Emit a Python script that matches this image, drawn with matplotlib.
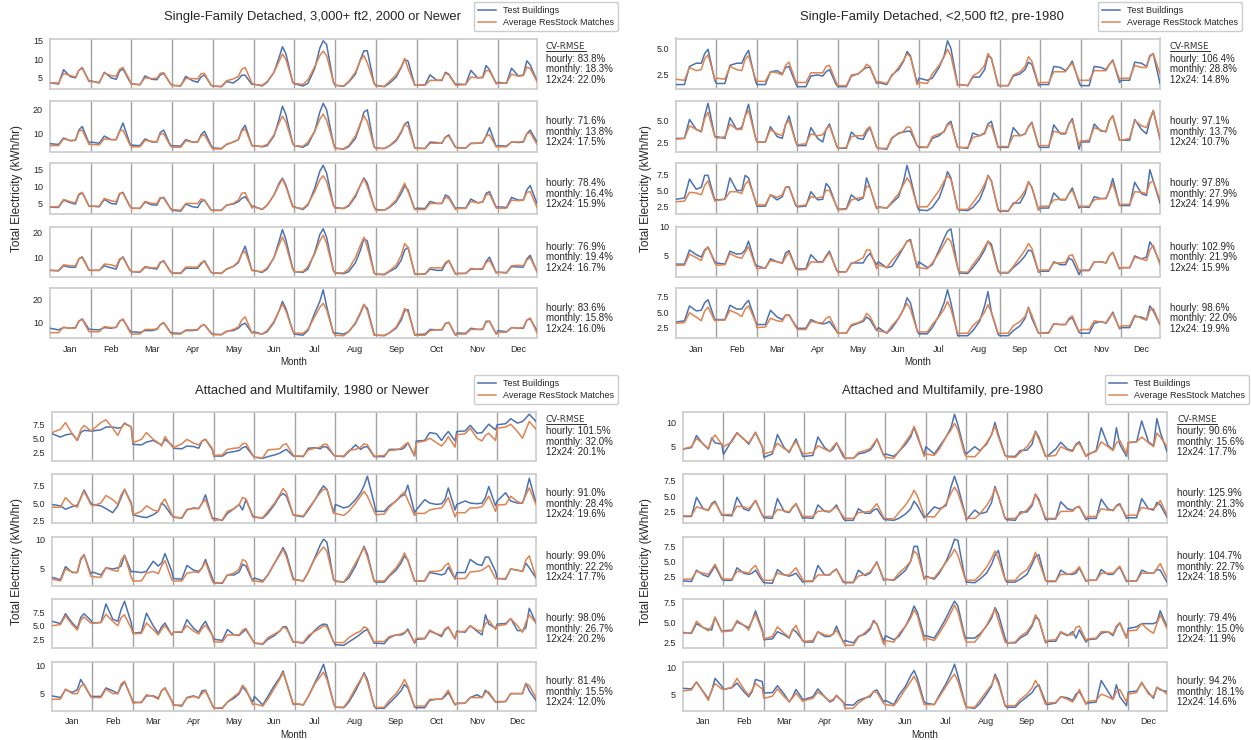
import numpy as np
import matplotlib
matplotlib.use("Agg")
import matplotlib.pyplot as plt
from matplotlib.lines import Line2D

plt.rcParams['font.family'] = ['Liberation Sans', 'DejaVu Sans']

# ---------------- data ----------------
MONTHS = ['Jan', 'Feb', 'Mar', 'Apr', 'May', 'Jun', 'Jul', 'Aug', 'Sep', 'Oct', 'Nov', 'Dec']
HOURS = [0, 5, 8, 12, 15, 17, 19, 23]   # hours of day read from each monthly 24-h profile
SERIES_LABELS = ['Test Buildings', 'Average ResStock Matches']
TITLES = ['Single-Family Detached, 3,000+ ft2, 2000 or Newer',
          'Single-Family Detached, <2,500 ft2, pre-1980',
          'Attached and Multifamily, 1980 or Newer',
          'Attached and Multifamily, pre-1980']

# ---- Single-Family Detached, 3,000+ ft2, 2000 or Newer ----
SF_NEW_TEST_1 = [[3.7,3.3,7.2,5.3,5.0,7.0,7.8,4.0],[4.2,3.6,6.5,5.0,4.6,6.8,7.4,4.0],[3.4,3.1,5.5,4.6,4.5,5.8,6.2,3.4],
                 [3.0,2.8,5.4,4.2,3.8,5.2,5.8,3.0],[2.8,2.6,4.0,3.6,4.6,5.7,5.7,3.2],[3.3,2.8,3.8,6.5,10.5,13.4,11.5,3.8],
                 [3.4,2.8,3.5,7.5,13.0,15.0,14.0,3.8],[3.0,2.7,3.8,6.0,10.0,12.3,12.3,3.5],[3.0,2.6,3.5,5.2,7.8,10.0,9.5,3.0],
                 [3.0,3.1,5.8,4.3,4.3,6.5,6.0,3.2],[3.3,3.2,7.0,5.0,5.2,8.3,7.2,3.4],[3.8,3.5,7.6,5.5,5.8,9.6,8.5,4.2]]
SF_NEW_MATCH_1 = [[3.7,3.6,6.2,5.6,5.2,7.0,7.6,4.2],[4.0,3.8,6.3,5.6,5.4,7.3,7.8,4.3],[3.3,3.2,5.0,4.8,4.9,6.2,6.4,3.4],
                  [2.9,2.9,4.8,4.8,4.7,6.1,6.2,3.0],[2.7,2.7,4.2,4.7,5.4,7.3,7.8,3.6],[3.2,3.0,4.0,6.5,9.5,11.4,10.0,4.0],
                  [3.5,3.2,4.5,8.0,11.0,12.2,11.0,4.0],[3.0,2.8,4.0,6.5,9.8,11.0,9.0,3.5],[2.8,2.7,4.0,5.8,8.0,10.2,7.5,3.0],
                  [3.0,3.0,4.3,4.3,4.5,6.2,5.8,3.0],[3.0,3.2,5.2,5.0,5.0,7.0,6.8,3.4],[3.5,3.6,6.0,5.4,5.6,7.9,7.5,4.0]]
SF_NEW_TEST_2 = [[5.8,5.5,8.2,7.0,7.2,11.5,13.0,6.0],[6.5,6.0,9.0,7.5,7.5,11.0,14.5,6.0],[5.2,5.0,7.8,6.5,6.5,10.5,11.5,5.0],
                 [5.0,4.8,7.5,6.5,6.5,9.5,11.0,5.0],[4.0,3.8,5.5,6.5,7.5,11.5,13.5,5.0],[5.0,4.5,5.0,9.0,16.0,21.5,18.0,6.0],
                 [5.0,4.3,5.5,11.0,19.0,22.7,20.0,6.0],[4.0,3.5,4.5,8.0,14.0,19.0,20.0,4.5],[4.0,3.8,4.8,7.0,10.5,14.0,15.0,4.0],
                 [4.0,3.8,6.5,6.3,6.0,8.5,9.5,4.3],[4.2,4.0,6.0,6.0,6.2,9.0,12.5,4.5],[5.0,4.8,6.5,6.3,6.5,10.0,11.5,6.5]]
SF_NEW_MATCH_2 = [[5.0,5.0,7.8,7.2,7.3,11.0,11.5,5.5],[5.5,5.3,7.8,7.5,7.5,11.0,11.5,5.5],[4.5,4.5,7.2,6.8,6.6,9.8,10.0,4.8],
                  [4.3,4.3,7.0,6.5,6.5,9.0,9.5,4.5],[3.6,3.6,5.5,6.5,7.5,11.0,12.0,5.0],[4.8,4.7,5.5,9.5,14.5,17.3,15.0,6.0],
                  [5.0,4.7,6.5,11.0,16.0,18.2,15.5,6.0],[3.8,3.7,5.0,9.0,14.5,17.5,15.0,4.5],[3.8,3.8,5.0,7.5,11.0,14.0,13.0,4.0],
                  [3.8,3.8,6.0,6.0,6.2,8.5,9.0,4.2],[4.0,4.0,5.8,6.0,6.5,9.0,9.5,4.5],[4.5,4.5,6.5,6.5,6.8,10.0,10.5,5.5]]
SF_NEW_TEST_3 = [[3.9,3.8,6.0,5.2,4.8,7.5,8.2,4.2],[4.2,4.0,6.2,5.0,4.8,7.8,8.3,4.2],[3.6,3.5,5.4,4.6,4.5,6.5,6.8,3.5],
                 [3.0,2.7,4.8,4.0,3.8,5.5,6.0,3.0],[3.0,3.0,4.5,4.8,5.5,6.5,7.0,4.2],[4.2,3.2,4.5,7.5,11.0,12.5,10.5,4.2],
                 [4.0,3.2,4.5,9.5,14.5,16.3,14.0,4.5],[3.8,3.5,4.2,7.0,10.5,12.6,11.0,4.0],[3.2,3.0,3.8,5.5,8.0,10.2,9.0,3.2],
                 [3.6,3.5,5.6,5.0,5.0,7.5,7.0,3.5],[3.7,3.6,6.3,5.2,5.4,8.0,8.5,3.8],[4.0,3.8,6.8,6.0,6.0,9.0,10.3,5.0]]
SF_NEW_MATCH_3 = [[4.0,4.0,6.2,5.5,5.2,7.8,8.3,4.2],[4.2,4.2,6.5,5.8,5.5,8.0,8.0,4.3],[3.5,3.6,5.6,5.0,5.0,6.8,6.5,3.5],
                  [3.2,3.0,5.0,5.0,5.0,6.3,6.0,3.0],[2.9,2.9,4.5,5.0,6.0,8.0,8.2,3.6],[4.0,3.3,4.5,7.5,10.5,12.2,10.0,4.0],
                  [3.8,3.5,4.8,8.5,12.0,13.2,11.5,4.5],[3.6,3.5,4.5,7.5,10.5,12.3,10.0,4.0],[3.0,3.0,4.0,6.0,9.0,11.0,8.5,3.2],
                  [3.2,3.2,5.0,5.0,5.0,6.8,6.5,3.2],[3.5,3.5,5.6,5.2,5.4,7.5,7.8,3.6],[3.6,3.6,6.0,5.8,6.0,8.3,8.5,3.8]]
SF_NEW_TEST_4 = [[5.0,4.8,6.8,6.2,6.2,9.5,10.3,5.2],[5.0,5.0,6.8,6.0,5.5,9.0,10.3,5.2],[4.5,4.3,6.2,5.8,5.5,8.0,8.8,4.5],
                 [4.0,3.8,5.8,5.8,5.8,7.5,8.8,4.2],[4.0,3.8,5.5,6.5,8.0,11.5,14.5,5.0],[5.0,4.2,5.5,10.0,16.5,21.0,17.0,5.8],
                 [4.5,4.2,5.5,12.0,19.0,21.3,18.0,5.0],[4.0,3.7,4.5,8.0,13.0,17.5,16.5,4.0],[3.5,3.3,4.5,6.0,9.0,13.0,14.0,3.5],
                 [3.5,3.5,5.5,5.0,5.0,7.5,8.8,3.5],[3.8,3.8,5.5,5.5,5.5,8.5,10.2,4.0],[4.3,4.0,6.5,6.3,6.3,9.5,10.9,4.5]]
SF_NEW_MATCH_4 = [[5.0,5.0,7.2,6.8,6.8,9.5,10.0,5.0],[5.0,5.0,7.5,7.2,6.5,9.5,10.0,5.2],[4.5,4.5,6.5,6.0,6.0,8.3,8.5,4.5],
                  [4.0,4.0,6.3,6.3,6.3,8.0,8.5,4.2],[4.0,3.9,5.5,6.5,8.5,11.5,12.5,5.0],[4.8,4.5,6.0,10.0,15.0,18.0,15.0,5.5],
                  [4.5,4.5,6.5,11.5,16.5,18.8,15.5,5.0],[4.0,4.0,5.5,10.0,15.0,18.0,14.0,4.0],[3.5,3.5,4.8,7.0,11.0,15.5,14.0,3.6],
                  [3.5,3.6,6.0,6.0,6.0,8.0,9.0,3.6],[3.8,3.8,5.8,5.5,5.8,8.0,9.0,4.0],[4.2,4.2,6.8,7.0,6.8,9.0,10.0,4.5]]
SF_NEW_TEST_5 = [[7.5,6.8,7.8,7.5,7.8,10.5,11.5,7.0],[7.0,6.8,7.8,7.5,8.0,10.5,11.3,6.5],[6.0,5.7,6.5,6.5,7.0,9.0,9.8,5.8],
                 [5.5,5.3,6.5,6.5,6.8,8.5,9.0,5.5],[5.0,4.8,6.2,6.5,7.5,9.0,9.7,5.5],[6.0,5.0,6.0,10.0,15.0,19.0,16.0,6.5],
                 [5.0,4.5,6.5,14.0,19.0,24.0,17.0,5.5],[5.5,5.0,6.0,9.5,14.0,17.5,16.0,5.0],[4.5,4.3,5.5,7.5,11.0,15.0,15.5,4.5],
                 [4.8,5.0,7.0,6.8,6.8,9.5,10.0,4.5],[5.5,5.3,7.5,7.0,7.0,10.5,10.5,5.0],[6.5,6.0,7.8,7.5,7.5,11.0,11.5,6.5]]
SF_NEW_MATCH_5 = [[5.6,5.6,8.0,7.5,7.5,10.5,11.3,6.0],[6.0,6.0,8.2,7.8,7.8,10.5,11.5,6.0],[5.0,5.0,7.0,7.0,7.2,9.0,10.0,5.5],
                  [5.0,5.0,6.8,6.8,7.0,8.5,9.0,5.2],[4.7,4.7,6.0,7.0,8.0,11.0,12.4,5.5],[5.5,5.0,6.5,10.5,15.0,17.8,15.0,6.5],
                  [5.5,5.3,7.0,12.5,16.5,18.2,15.5,5.5],[4.5,4.3,6.0,10.0,14.5,17.8,15.0,4.5],[4.5,4.5,5.5,8.0,12.0,16.0,14.5,4.5],
                  [4.5,4.5,6.5,6.8,7.0,9.5,10.0,4.5],[5.0,5.0,7.0,7.0,7.2,10.0,10.5,5.0],[5.8,5.8,7.8,7.5,7.8,11.0,11.9,5.5]]

# ---- Single-Family Detached, <2,500 ft2, pre-1980 ----
SF_OLD_TEST_1 = [[1.6,1.6,3.3,3.6,3.6,4.5,4.9,2.0],[1.7,1.7,3.4,3.6,3.6,4.3,4.8,2.0],[1.6,1.6,2.8,2.9,2.6,3.2,3.3,1.7],
                 [1.4,1.4,2.4,2.5,2.4,2.8,3.0,1.6],[1.4,1.4,2.4,2.6,3.0,3.2,3.2,1.7],[1.8,1.6,2.5,3.0,3.8,4.7,4.3,1.7],
                 [2.2,2.0,2.2,3.2,4.3,5.7,5.0,1.6],[1.6,1.5,2.3,2.3,3.0,4.3,4.1,1.5],[1.5,1.5,2.4,2.6,3.0,3.7,3.5,1.5],
                 [1.6,1.6,3.3,3.2,2.9,3.3,3.8,1.8],[1.5,1.5,3.3,3.2,3.0,3.5,3.9,1.8],[2.0,2.0,3.7,3.6,3.3,4.3,4.5,1.7]]
SF_OLD_MATCH_1 = [[2.1,2.0,3.2,2.9,3.0,4.0,4.4,2.1],[2.2,2.1,3.3,3.0,2.9,4.0,4.3,2.2],[1.9,1.9,2.8,2.7,2.5,3.4,3.7,1.9],
                  [1.8,1.8,2.7,2.7,2.7,3.3,3.4,1.8],[1.5,1.5,2.5,2.6,3.0,3.5,3.3,1.8],[1.9,1.7,2.4,3.2,3.9,4.5,4.2,1.6],
                  [1.8,1.7,2.6,3.4,4.2,4.9,4.3,1.5],[1.6,1.5,2.4,2.8,3.4,4.5,4.0,1.6],[1.5,1.5,2.5,2.8,3.3,4.2,3.8,1.6],
                  [1.8,1.8,2.8,2.8,2.8,3.3,3.6,2.0],[2.0,2.0,2.9,2.9,2.9,3.5,3.8,2.1],[2.2,2.2,3.4,3.2,3.2,4.2,4.5,2.6]]
SF_OLD_TEST_2 = [[3.0,3.0,5.1,4.0,3.8,5.5,6.9,3.2],[3.2,3.0,5.3,4.0,4.2,5.5,6.8,3.2],[2.6,2.6,4.3,3.2,3.0,4.5,5.5,2.6],
                 [2.2,2.2,4.2,3.0,2.6,4.0,4.6,2.3],[1.9,1.9,3.7,3.0,2.9,3.7,4.2,2.0],[1.9,1.8,3.0,3.6,3.7,3.8,3.8,2.2],
                 [2.0,2.0,3.0,3.3,3.8,4.6,4.9,2.0],[2.0,1.9,3.6,3.3,3.6,4.6,4.9,2.0],[2.0,2.0,4.2,3.3,3.5,4.3,4.8,2.1],
                 [2.0,2.0,4.5,3.5,3.5,4.6,5.2,1.8],[2.6,2.6,4.6,3.8,3.8,5.0,5.5,2.8],[2.8,2.8,5.1,4.0,3.5,5.0,6.1,2.9]]
SF_OLD_MATCH_2 = [[2.9,3.0,4.4,4.0,3.7,5.2,5.9,3.2],[3.0,3.2,4.6,4.0,4.0,5.5,6.1,3.2],[2.6,2.6,4.0,3.5,3.3,4.6,5.0,2.6],
                  [2.3,2.4,3.5,3.3,3.4,4.0,4.4,2.3],[1.9,2.0,3.2,3.3,3.3,4.0,4.3,2.0],[1.9,1.9,3.1,3.5,3.8,4.3,4.2,2.2],
                  [2.1,2.0,3.2,3.5,3.7,4.5,4.6,2.0],[2.0,2.0,3.1,3.3,3.5,4.4,4.4,2.0],[2.1,2.1,3.3,3.3,3.5,4.3,4.7,2.2],
                  [2.2,2.2,3.8,3.6,3.6,4.6,5.0,2.2],[2.7,2.8,4.2,3.9,3.7,5.0,5.5,2.8],[2.8,3.0,5.0,4.4,4.2,5.2,6.1,3.0]]
SF_OLD_TEST_3 = [[3.6,3.8,6.8,5.2,5.5,7.4,7.4,3.5],[3.5,3.6,7.0,5.0,5.0,7.4,7.0,3.4],[2.5,2.5,4.3,3.5,4.0,5.5,5.6,2.6],
                 [2.4,2.5,4.8,3.5,3.6,6.1,5.5,2.6],[2.0,2.1,4.3,3.4,3.8,7.0,5.5,2.1],[2.4,2.2,3.0,4.0,6.5,9.0,7.0,2.5],
                 [1.9,1.8,2.3,3.8,6.0,8.0,7.0,2.0],[1.9,1.8,2.3,3.5,5.5,7.4,6.5,1.9],[1.7,1.7,3.0,3.0,4.5,6.4,5.5,1.9],
                 [2.2,2.2,4.6,3.5,3.5,4.5,5.4,2.2],[2.4,2.3,4.0,3.7,3.7,5.0,6.9,2.6],[2.6,2.6,6.3,4.5,4.2,8.3,6.5,3.0]]
SF_OLD_MATCH_3 = [[3.2,3.3,4.7,4.6,4.3,5.8,6.5,3.3],[3.4,3.6,4.8,4.8,4.5,6.0,6.5,3.5],[2.7,2.7,4.3,3.9,4.3,5.5,5.5,2.8],
                  [2.5,2.7,4.0,3.8,4.0,5.0,5.0,2.6],[1.9,2.0,3.5,3.8,3.9,5.7,5.5,2.1],[2.3,2.2,3.2,4.5,6.0,7.0,6.2,2.6],
                  [2.4,2.4,3.5,5.0,6.5,7.3,6.8,2.0],[2.0,2.0,3.0,4.5,6.0,7.3,6.5,2.0],[1.8,1.8,2.8,3.8,5.0,6.3,5.5,1.9],
                  [2.5,2.5,3.5,3.6,3.6,4.5,5.0,2.5],[2.5,2.5,3.5,3.7,3.8,5.0,6.1,2.6],[2.8,2.8,4.8,4.7,4.5,6.2,6.5,3.5]]
SF_OLD_TEST_4 = [[3.6,3.6,6.0,5.2,4.8,6.0,6.5,4.0],[3.8,3.6,5.8,5.3,5.4,6.0,7.5,3.6],[3.3,2.9,4.5,4.0,3.8,5.5,5.9,3.0],
                 [2.8,2.8,5.2,4.0,4.0,5.0,5.8,2.7],[2.3,2.3,3.8,3.8,3.8,4.8,5.4,3.5],[4.0,3.0,3.2,5.0,6.5,7.5,7.8,3.0],
                 [4.0,3.0,3.5,6.0,8.0,9.2,9.6,3.0],[2.1,2.0,3.0,4.5,6.0,7.5,7.0,2.5],[2.1,2.1,3.0,4.0,5.0,6.0,5.8,2.2],
                 [2.4,2.4,4.0,3.5,3.5,4.6,4.3,1.8],[2.5,2.5,4.0,4.0,3.8,5.0,5.6,2.8],[3.0,3.0,5.0,4.5,4.8,7.4,6.5,3.8]]
SF_OLD_MATCH_4 = [[3.4,3.4,5.3,4.7,4.2,5.8,6.5,3.8],[3.4,3.5,5.4,4.8,4.6,5.6,6.6,3.4],[2.8,3.0,4.2,4.0,3.7,4.8,5.6,2.8],
                  [2.6,2.7,4.0,3.9,3.9,4.8,5.5,2.8],[2.2,2.3,3.7,4.2,4.7,6.0,6.0,2.8],[3.5,3.0,4.2,5.5,6.5,7.5,7.5,3.2],
                  [3.0,2.8,3.8,5.5,7.0,8.0,7.5,3.0],[2.3,2.2,3.5,5.0,6.5,7.5,6.5,2.3],[2.2,2.2,3.2,4.8,6.0,7.1,6.3,2.3],
                  [2.6,2.6,3.8,3.8,3.9,5.0,5.2,2.5],[2.6,2.6,4.0,4.0,3.8,5.0,5.6,2.8],[3.0,3.0,4.8,4.5,4.2,6.0,6.8,3.5]]
SF_OLD_TEST_5 = [[3.4,3.6,6.0,5.2,5.3,6.5,7.0,3.8],[3.8,3.8,6.1,5.5,5.5,6.3,6.9,3.7],[3.0,3.0,5.3,4.2,3.8,4.5,4.5,2.8],
                 [2.4,2.4,3.8,3.3,3.1,3.2,3.5,2.0],[1.6,1.6,2.8,3.2,3.5,4.2,3.8,2.0],[2.5,1.6,2.4,4.0,5.5,7.3,6.5,2.0],
                 [1.5,1.5,2.5,4.5,6.5,8.6,6.5,1.2],[1.2,1.2,2.0,3.5,6.0,8.3,5.0,1.4],[1.2,1.2,2.0,2.8,4.0,5.8,4.0,1.6],
                 [1.6,1.7,3.1,3.0,3.0,3.8,4.1,1.7],[1.6,1.6,3.2,3.5,3.2,4.0,5.0,2.3],[2.5,2.5,4.3,4.2,3.8,6.0,5.2,3.0]]
SF_OLD_MATCH_5 = [[3.2,3.3,4.9,4.2,3.6,5.2,5.8,3.6],[3.7,3.7,5.3,4.8,4.3,5.5,6.0,3.6],[2.5,2.6,4.0,3.6,3.5,4.5,4.6,2.6],
                  [2.2,2.2,3.5,3.3,3.3,4.0,4.3,2.2],[1.6,1.6,3.0,3.3,3.7,4.8,4.3,2.2],[2.0,1.7,2.8,4.0,5.5,6.4,5.5,2.0],
                  [1.8,1.8,3.0,4.3,5.5,6.7,5.5,1.6],[1.6,1.6,2.8,3.8,5.0,6.2,5.0,1.6],[1.6,1.6,2.8,3.5,4.3,5.7,4.5,1.6],
                  [1.6,1.6,3.1,3.0,3.0,4.0,4.4,1.8],[2.2,2.2,3.6,3.4,3.3,4.2,4.8,2.4],[2.8,2.8,4.5,4.0,3.7,5.3,5.6,3.0]]

# ---- Attached and Multifamily, 1980 or Newer ----
MF_NEW_TEST_1 = [[5.8,5.2,5.6,5.8,4.6,6.0,6.4,6.3],[6.3,6.5,7.0,7.0,6.8,6.9,7.7,7.0],[3.9,3.8,4.3,4.6,4.1,3.8,4.8,3.8],
                 [3.2,3.1,3.6,3.5,3.2,4.5,4.8,3.0],[1.8,1.8,2.4,2.6,2.8,3.3,3.5,1.9],[1.6,1.4,1.7,2.0,2.3,2.7,3.0,1.8],
                 [1.8,1.7,3.2,3.3,3.1,3.5,3.4,2.0],[1.8,1.7,2.6,3.8,3.0,3.4,3.5,1.7],[1.7,1.7,3.0,3.0,3.0,3.3,4.2,1.8],
                 [4.5,4.6,6.0,5.8,4.6,5.5,6.2,4.5],[6.2,6.3,7.3,5.9,6.0,6.8,7.5,6.5],[7.4,7.6,8.5,7.7,8.0,8.6,9.3,8.0]]
MF_NEW_MATCH_1 = [[6.0,6.6,7.8,5.8,4.6,6.5,7.3,6.3],[6.5,7.8,8.3,6.8,5.5,6.8,7.6,7.0],[4.2,4.8,6.0,4.8,4.2,3.6,5.3,3.6],
                  [3.3,4.0,4.8,4.1,3.8,4.5,4.8,3.2],[1.9,2.0,3.0,3.2,3.3,4.0,4.1,2.0],[1.6,1.5,2.9,3.0,3.1,3.8,4.0,2.0],
                  [1.8,1.8,2.9,3.2,3.4,3.9,3.9,2.0],[1.8,1.8,2.8,3.0,3.4,4.0,3.8,1.8],[1.8,1.9,2.8,2.9,3.2,3.8,4.2,1.9],
                  [4.2,4.5,5.0,4.2,3.6,4.3,5.3,3.4],[5.6,5.8,6.8,5.0,4.5,5.5,5.9,4.6],[6.8,7.0,7.5,6.2,5.0,6.5,8.0,6.6]]
MF_NEW_TEST_2 = [[4.8,4.6,4.1,4.5,4.7,5.7,6.9,5.0],[4.8,4.6,4.2,3.6,4.6,5.8,7.0,5.0],[3.3,3.0,2.9,3.3,3.8,5.0,4.6,3.2],
                 [3.0,2.8,4.0,4.3,4.2,5.0,6.2,2.8],[2.8,2.5,3.5,4.2,4.8,4.0,5.5,3.2],[3.0,2.8,3.5,4.8,6.0,6.4,6.0,3.3],
                 [3.2,3.0,4.0,5.5,6.8,7.5,7.0,3.6],[4.8,4.3,4.5,5.5,6.5,7.5,8.9,5.0],[3.8,3.8,4.6,5.3,6.0,6.2,7.6,3.6],
                 [4.0,5.5,5.0,4.8,4.9,5.5,7.2,4.0],[4.8,5.3,5.0,4.9,5.0,5.8,7.4,4.6],[5.3,6.5,5.3,5.0,5.0,6.5,8.6,5.0]]
MF_NEW_MATCH_2 = [[4.4,4.4,5.8,4.8,4.4,5.8,6.7,4.8],[4.6,5.0,6.1,5.5,4.8,6.2,7.0,4.8],[3.3,3.8,4.6,4.0,3.8,5.0,5.6,3.4],
                  [2.9,2.9,4.1,4.2,4.2,5.0,5.5,2.8],[2.5,2.6,3.8,4.2,4.8,5.8,5.6,3.0],[2.9,2.9,3.8,5.0,6.2,7.1,6.5,3.3],
                  [3.3,3.1,4.2,5.5,6.5,7.0,7.0,3.5],[3.5,3.2,3.8,5.0,6.0,6.7,6.0,3.8],[3.3,3.4,4.4,5.3,6.2,6.6,5.4,3.2],
                  [3.5,3.5,4.0,4.2,4.3,5.0,5.8,3.0],[3.6,3.6,4.3,4.3,4.5,5.2,6.0,3.8],[4.7,4.8,6.0,5.2,5.0,6.2,7.2,4.8]]
MF_NEW_TEST_3 = [[3.6,3.2,5.4,4.4,4.4,6.5,7.4,4.2],[4.5,4.0,5.2,5.0,5.2,5.5,7.3,4.5],[4.6,4.4,4.6,6.3,5.5,6.0,7.6,4.6],
                 [3.4,3.3,5.6,4.8,4.6,5.2,6.6,3.5],[2.7,2.6,4.0,4.0,4.5,5.8,5.5,3.0],[3.5,3.0,4.0,6.0,7.5,8.6,7.5,3.5],
                 [3.2,3.0,4.5,7.0,9.0,10.0,9.5,3.2],[3.0,2.8,3.5,5.5,7.5,8.8,7.5,3.0],[2.8,2.8,3.8,4.8,6.0,7.2,6.5,3.0],
                 [3.0,3.0,4.4,4.2,4.0,4.2,5.3,3.3],[4.4,4.4,6.6,5.8,5.6,7.0,7.0,4.6],[3.4,3.3,5.0,4.8,4.6,6.0,5.2,3.5]]
MF_NEW_MATCH_3 = [[3.3,3.0,5.0,4.5,4.4,6.8,7.4,3.8],[3.7,3.6,5.2,4.8,4.6,6.5,7.3,3.6],[3.0,3.0,4.3,4.6,4.2,5.5,6.4,3.2],
                  [3.0,3.0,4.3,4.5,4.4,5.2,6.2,3.0],[2.6,2.7,4.0,4.3,5.0,6.6,6.3,3.0],[3.0,2.8,4.0,6.0,7.3,8.3,7.0,3.2],
                  [3.2,3.0,4.5,6.8,8.0,8.7,8.0,3.2],[2.9,2.8,4.0,6.0,7.5,8.6,7.0,3.0],[3.0,3.0,4.0,5.2,6.5,7.7,6.5,3.1],
                  [3.0,3.0,4.6,4.6,4.8,5.5,6.0,3.4],[3.4,3.4,4.5,4.6,4.8,5.2,5.6,3.4],[3.4,3.4,5.0,4.8,4.6,6.5,7.2,3.6]]
MF_NEW_TEST_4 = [[5.8,5.4,7.2,5.5,4.5,6.5,7.2,6.0],[5.5,5.6,9.0,6.2,5.8,8.0,9.5,5.5],[3.6,3.8,7.3,5.0,3.6,4.8,5.5,3.3],
                 [3.8,3.8,6.1,4.5,3.8,5.0,5.8,3.3],[2.5,2.3,4.3,3.3,3.2,3.8,4.3,2.3],[1.8,1.6,2.5,3.2,4.0,4.8,4.8,2.0],
                 [2.0,1.8,2.8,4.2,5.0,5.3,5.2,2.0],[1.5,1.4,2.0,2.8,3.5,4.0,4.3,1.8],[1.8,1.7,2.8,3.3,3.3,3.6,4.4,1.8],
                 [2.5,2.6,4.0,3.5,3.0,4.2,4.7,2.6],[4.0,3.8,5.0,4.0,3.3,7.0,5.3,4.5],[5.3,5.4,6.3,4.1,4.1,4.6,8.2,5.5]]
MF_NEW_MATCH_4 = [[5.0,5.2,6.8,5.2,4.2,6.0,6.6,5.5],[5.4,5.6,7.1,5.8,5.0,6.5,7.0,4.5],[3.5,3.6,5.5,4.3,3.3,4.3,5.0,3.3],
                  [3.8,3.9,5.0,4.0,3.5,4.5,5.1,3.3],[2.0,2.0,3.3,3.3,3.3,4.2,4.5,2.3],[1.8,1.7,2.8,3.5,4.0,4.7,4.5,2.0],
                  [2.0,1.9,3.2,4.0,4.5,5.0,4.8,2.0],[1.9,1.9,2.8,3.6,4.0,4.8,4.5,2.0],[2.1,2.1,3.0,3.3,3.5,3.8,4.1,2.0],
                  [2.7,2.7,4.2,3.5,3.3,4.4,4.8,2.6],[3.8,4.0,5.0,4.2,4.0,5.3,6.0,4.3],[5.0,5.2,6.3,5.0,3.8,5.6,7.0,5.5]]
MF_NEW_TEST_5 = [[4.6,4.3,5.7,5.2,5.7,7.5,6.5,4.5],[4.5,4.5,6.0,5.5,5.0,6.3,7.1,4.3],[3.5,3.4,4.6,4.6,4.2,5.5,6.0,3.8],
                 [3.0,2.8,4.3,4.6,4.2,5.5,5.6,3.0],[2.4,2.4,3.5,4.2,5.0,6.2,5.5,3.5],[4.5,3.0,4.5,6.5,7.8,9.0,7.0,3.2],
                 [3.2,3.0,4.5,7.0,8.8,10.2,8.0,3.3],[2.6,2.5,3.5,5.5,7.3,8.7,7.5,2.8],[2.4,2.4,3.3,4.5,5.5,6.6,6.0,2.6],
                 [2.5,2.5,3.8,4.0,4.0,4.5,5.2,3.0],[3.3,3.3,4.3,4.8,4.3,5.6,5.0,3.5],[3.5,3.6,5.0,5.0,5.0,6.8,5.5,3.8]]
MF_NEW_MATCH_5 = [[4.0,4.0,5.8,5.0,5.0,6.3,6.7,4.4],[4.3,4.3,5.8,5.0,5.0,6.7,7.2,4.3],[3.3,3.5,4.8,4.5,4.0,5.5,6.0,3.7],
                  [2.9,3.0,4.2,4.5,4.3,5.0,5.5,3.0],[2.4,2.5,3.5,4.5,5.2,6.5,5.8,3.0],[3.2,2.8,4.0,6.0,7.5,8.7,7.0,3.0],
                  [3.3,3.0,4.5,6.8,8.0,8.8,7.5,3.3],[2.6,2.6,3.8,6.0,7.5,8.5,7.0,2.9],[2.5,2.6,3.8,5.0,6.3,7.5,6.3,2.7],
                  [2.8,2.8,4.0,4.0,4.0,4.8,5.6,3.0],[3.2,3.3,4.3,4.3,4.3,5.2,5.3,3.5],[3.6,3.6,5.0,5.0,5.0,6.8,6.4,4.3]]

# ---- Attached and Multifamily, pre-1980 ----
MF_OLD_TEST_1 = [[4.5,4.8,7.3,5.5,4.5,6.8,5.8,5.5],[3.4,6.3,7.9,6.6,5.5,6.8,7.9,5.0],[2.8,3.5,7.5,4.8,3.8,5.2,6.6,3.0],
                 [3.0,3.2,7.0,4.8,4.0,4.5,5.8,3.0],[2.6,2.6,3.5,3.8,4.3,5.2,6.6,3.2],[3.5,3.0,4.0,5.5,7.0,9.0,7.0,3.3],
                 [5.0,3.5,5.0,7.0,9.0,11.7,9.5,4.0],[3.5,5.0,4.2,5.5,7.5,10.0,7.5,3.2],[3.0,3.0,4.2,4.3,5.5,8.2,7.0,3.0],
                 [3.0,4.5,5.9,4.5,4.2,5.5,6.0,3.0],[3.3,4.2,8.9,5.3,4.3,8.9,5.5,3.0],[5.8,6.0,10.3,6.0,5.2,10.8,8.0,4.0]]
MF_OLD_MATCH_1 = [[4.5,5.0,6.7,5.6,4.6,6.5,7.4,5.5],[5.0,6.0,7.8,6.5,5.8,6.8,8.0,5.0],[3.5,4.0,5.7,4.6,4.0,5.2,6.1,3.6],
                  [3.5,3.8,5.2,4.5,4.0,5.0,5.8,3.5],[2.6,2.6,3.8,4.2,4.6,5.6,6.5,3.2],[2.8,2.6,4.0,6.0,7.5,9.2,7.5,3.0],
                  [3.5,3.2,4.5,7.0,8.5,9.8,8.5,3.5],[3.0,2.9,4.0,5.8,7.5,9.3,7.0,3.2],[2.9,2.8,3.8,5.0,6.5,8.1,6.5,3.0],
                  [3.0,3.2,5.0,4.3,4.0,5.3,5.7,3.0],[3.5,4.0,6.0,5.0,4.2,5.8,6.3,3.5],[5.9,6.0,7.0,5.8,5.0,7.8,7.0,5.0]]
MF_OLD_TEST_2 = [[1.8,1.8,4.8,3.0,2.8,3.8,4.2,2.0],[2.0,1.9,4.8,3.0,2.7,3.5,4.3,2.0],[1.6,1.5,4.6,2.6,2.4,3.2,3.8,1.5],
                 [1.6,1.5,3.6,2.6,2.5,3.0,3.6,1.5],[1.2,1.2,3.0,2.3,2.3,2.8,3.0,1.4],[1.3,1.2,1.5,2.2,3.0,4.2,3.5,1.6],
                 [1.8,3.3,3.0,3.5,6.5,8.1,6.5,2.5],[1.3,2.8,2.2,2.5,4.0,6.5,5.0,1.5],[1.3,1.2,2.5,2.5,3.5,5.3,4.5,1.3],
                 [1.4,1.4,4.1,3.0,2.8,3.2,3.3,1.3],[1.5,1.5,4.5,3.0,2.7,3.5,3.8,1.5],[1.6,1.6,4.6,3.0,2.8,4.0,3.6,1.7]]
MF_OLD_MATCH_2 = [[1.9,1.9,3.3,3.0,2.7,3.6,4.0,2.1],[2.1,2.1,3.4,3.3,3.0,3.6,4.3,2.0],[1.8,1.8,2.9,2.7,2.5,3.3,3.8,1.8],
                  [1.8,1.8,2.6,2.7,2.6,3.0,3.3,1.8],[1.5,1.5,2.4,2.5,2.6,3.2,3.8,1.6],[1.5,1.4,2.4,3.6,4.8,5.9,5.0,2.0],
                  [1.8,1.7,2.7,3.8,5.5,6.4,5.5,2.3],[1.5,1.5,2.2,3.5,4.8,6.2,5.0,1.5],[1.5,1.5,2.2,2.8,3.8,5.3,4.2,1.6],
                  [1.5,1.5,2.6,2.6,2.6,3.2,3.4,1.5],[1.8,1.8,3.0,2.8,2.8,3.4,3.6,1.8],[2.0,2.0,3.2,3.0,3.0,3.5,4.3,2.0]]
MF_OLD_TEST_3 = [[1.7,1.6,3.5,2.7,2.4,3.3,4.2,2.0],[1.8,1.8,3.9,3.0,2.8,3.0,3.5,1.7],[1.4,1.3,3.6,2.7,2.5,2.7,3.0,1.5],
                 [1.6,1.6,4.3,2.7,2.7,3.3,3.7,1.5],[1.4,1.4,3.5,2.6,3.0,4.0,4.9,1.8],[2.0,1.8,2.5,3.5,5.0,7.5,7.5,2.0],
                 [2.5,2.0,3.0,5.0,7.0,8.7,8.5,2.5],[1.5,1.4,2.0,3.0,4.5,6.0,6.8,2.0],[1.5,1.5,2.0,2.8,4.5,5.8,6.1,1.8],
                 [1.6,1.6,3.5,2.8,2.8,3.0,3.9,1.6],[1.8,1.8,3.6,2.8,2.8,3.5,4.0,1.6],[1.7,1.7,3.5,3.0,3.0,3.6,3.5,1.5]]
MF_OLD_MATCH_3 = [[2.0,2.0,3.3,3.0,2.8,3.6,4.5,2.2],[2.0,2.0,3.3,3.2,3.0,3.8,4.3,2.0],[1.8,1.8,3.0,2.7,2.7,3.3,3.9,1.9],
                  [1.7,1.7,2.7,2.7,2.8,3.3,3.6,1.7],[1.5,1.5,2.5,2.8,3.2,4.0,4.8,2.0],[1.9,1.9,3.0,4.0,5.0,6.7,6.2,2.0],
                  [2.3,2.2,3.3,4.8,6.0,7.0,6.0,2.3],[1.8,1.8,2.6,4.0,5.5,6.7,5.5,1.9],[1.8,1.8,2.8,3.6,5.0,6.5,5.0,1.8],
                  [1.7,1.7,2.8,2.8,3.0,3.4,4.1,1.7],[1.8,1.8,3.0,3.0,3.0,3.6,4.2,1.8],[1.7,1.7,3.0,3.0,3.0,3.8,4.6,2.2]]
MF_OLD_TEST_4 = [[3.7,3.6,4.8,4.3,4.1,4.0,5.6,3.8],[3.9,4.0,5.0,4.6,4.3,5.2,6.4,4.0],[2.8,2.9,3.8,3.4,3.0,4.1,3.8,2.7],
                 [2.5,2.5,3.8,3.2,3.2,3.5,4.5,2.5],[2.7,2.4,3.2,3.5,4.1,5.2,4.7,2.6],[3.3,2.8,3.2,4.5,5.8,7.0,6.2,3.2],
                 [3.3,3.0,4.0,5.5,6.8,7.6,7.0,3.3],[3.0,3.0,3.5,4.5,5.5,6.8,6.0,3.0],[2.4,2.4,3.0,3.5,4.5,5.6,5.3,2.4],
                 [2.6,2.6,3.7,3.3,3.8,3.0,4.0,2.5],[2.8,2.9,3.6,3.8,3.3,4.3,4.9,3.0],[4.2,4.4,4.8,4.8,4.8,5.0,6.4,4.4]]
MF_OLD_MATCH_4 = [[3.6,3.7,5.1,4.3,3.9,4.5,5.6,3.8],[3.8,3.9,5.2,4.6,4.0,5.2,6.0,3.8],[2.9,3.2,4.4,3.6,3.1,4.0,4.6,2.6],
                  [2.6,2.7,3.8,3.4,3.3,3.5,4.0,2.6],[2.1,2.1,3.1,3.7,4.3,5.0,4.8,2.2],[2.7,2.5,3.5,4.5,5.5,6.5,5.8,2.7],
                  [3.0,2.7,3.6,5.0,6.2,7.1,6.3,3.0],[2.5,2.5,3.3,4.6,5.8,6.6,5.2,2.5],[2.4,2.5,3.2,3.8,4.7,5.9,5.3,2.5],
                  [2.7,2.8,3.8,3.4,3.4,4.3,4.5,2.7],[2.9,3.0,3.8,3.8,3.5,4.5,4.9,3.0],[3.9,4.0,4.8,4.0,3.6,4.8,5.9,4.2]]
MF_OLD_TEST_5 = [[6.1,6.0,7.3,5.5,4.1,5.6,8.0,6.5],[5.9,6.2,7.1,5.5,4.5,5.5,7.8,7.4],[5.2,5.3,6.6,5.0,3.5,4.5,5.9,4.0],
                 [4.0,4.5,6.0,4.5,3.5,3.8,4.7,3.5],[3.0,2.9,3.8,4.3,4.5,5.5,5.8,3.5],[3.8,3.0,4.8,6.5,8.5,9.5,8.0,3.5],
                 [3.3,3.0,4.8,7.0,9.0,10.7,8.5,3.5],[2.5,2.3,3.2,5.0,6.5,8.8,7.5,2.8],[2.5,2.5,3.5,4.5,5.3,6.3,6.8,3.5],
                 [3.0,3.3,4.5,4.3,3.8,5.0,5.5,3.2],[3.3,3.5,7.6,5.5,4.0,6.8,4.5,2.8],[5.4,5.6,7.1,5.3,4.2,6.3,5.8,5.5]]
MF_OLD_MATCH_5 = [[5.6,5.8,7.3,5.4,3.8,5.8,7.0,6.0],[5.9,6.3,8.0,6.0,4.8,5.8,7.0,6.0],[4.2,4.6,6.0,4.5,3.6,4.3,5.2,3.6],
                  [3.8,4.2,5.4,4.5,3.7,4.0,4.8,3.5],[2.3,2.3,3.3,4.2,4.8,5.5,5.3,3.2],[3.0,2.8,4.0,6.0,7.4,8.4,7.2,3.0],
                  [3.0,3.0,4.5,6.5,8.0,8.8,7.5,3.3],[2.5,2.5,3.8,5.5,6.8,8.4,7.0,2.8],[2.8,2.8,4.0,5.0,6.2,7.6,6.5,3.0],
                  [3.3,3.4,4.5,4.0,3.5,4.5,5.9,3.0],[3.6,3.8,5.0,4.5,4.0,5.5,5.9,3.5],[5.0,5.3,7.3,5.0,4.5,6.3,6.0,5.0]]

# CV-RMSE (hourly, monthly, 12x24) in %
CV_SF_NEW = [[83.8, 18.3, 22.0], [71.6, 13.8, 17.5], [78.4, 16.4, 15.9], [76.9, 19.4, 16.7], [83.6, 15.8, 16.0]]
CV_SF_OLD = [[106.4, 28.8, 14.8], [97.1, 13.7, 10.7], [97.8, 27.9, 14.9], [102.9, 21.9, 15.9], [98.6, 22.0, 19.9]]
CV_MF_NEW = [[101.5, 32.0, 20.1], [91.0, 28.4, 19.6], [99.0, 22.2, 17.7], [98.0, 26.7, 20.2], [81.4, 15.5, 12.0]]
CV_MF_OLD = [[90.6, 15.6, 17.7], [125.9, 21.3, 24.8], [104.7, 22.7, 18.5], [79.4, 15.0, 11.9], [94.2, 18.1, 14.6]]

# y tick values per row
YT_SF_NEW = [[5, 10, 15], [10, 20], [5, 10, 15], [10, 20], [10, 20]]
YT_SF_OLD = [[2.5, 5.0], [2.5, 5.0], [2.5, 5.0, 7.5], [5, 10], [2.5, 5.0, 7.5]]
YT_MF_NEW = [[2.5, 5.0, 7.5], [2.5, 5.0, 7.5], [5, 10], [2.5, 5.0, 7.5], [5, 10]]
YT_MF_OLD = [[5, 10], [2.5, 5.0, 7.5], [2.5, 5.0, 7.5], [2.5, 5.0, 7.5], [5, 10]]

# ---------------- drawing ----------------
W, H = 1251, 740
BLUE = '#4c72b0'
ORANGE = '#dd8452'
TXT = '#262626'

fig = plt.figure(figsize=(W / 100, H / 100), dpi=100)
fig.patch.set_facecolor('white')

TOP_ROWS, TOP_H = [38.5, 101, 163, 226.5, 287.5], 50.5
BOT_ROWS, BOT_H = [412, 474, 537, 599, 662], 48.5

panels = [
    dict(title=TITLES[0], x0=50, x1=537, rows=TOP_ROWS, h=TOP_H,
         tests=[SF_NEW_TEST_1, SF_NEW_TEST_2, SF_NEW_TEST_3, SF_NEW_TEST_4, SF_NEW_TEST_5],
         matches=[SF_NEW_MATCH_1, SF_NEW_MATCH_2, SF_NEW_MATCH_3, SF_NEW_MATCH_4, SF_NEW_MATCH_5],
         cv=CV_SF_NEW, yt=YT_SF_NEW, tx=312, ty=17, ylx=17, leg=(618, 2), cvx=546),
    dict(title=TITLES[1], x0=676, x1=1160, rows=TOP_ROWS, h=TOP_H,
         tests=[SF_OLD_TEST_1, SF_OLD_TEST_2, SF_OLD_TEST_3, SF_OLD_TEST_4, SF_OLD_TEST_5],
         matches=[SF_OLD_MATCH_1, SF_OLD_MATCH_2, SF_OLD_MATCH_3, SF_OLD_MATCH_4, SF_OLD_MATCH_5],
         cv=CV_SF_OLD, yt=YT_SF_OLD, tx=932, ty=17, ylx=646, leg=(1242, 2), cvx=1170),
    dict(title=TITLES[2], x0=52, x1=536, rows=BOT_ROWS, h=BOT_H,
         tests=[MF_NEW_TEST_1, MF_NEW_TEST_2, MF_NEW_TEST_3, MF_NEW_TEST_4, MF_NEW_TEST_5],
         matches=[MF_NEW_MATCH_1, MF_NEW_MATCH_2, MF_NEW_MATCH_3, MF_NEW_MATCH_4, MF_NEW_MATCH_5],
         cv=CV_MF_NEW, yt=YT_MF_NEW, tx=312, ty=391, ylx=17, leg=(618, 375), cvx=546),
    dict(title=TITLES[3], x0=683, x1=1167, rows=BOT_ROWS, h=BOT_H,
         tests=[MF_OLD_TEST_1, MF_OLD_TEST_2, MF_OLD_TEST_3, MF_OLD_TEST_4, MF_OLD_TEST_5],
         matches=[MF_OLD_MATCH_1, MF_OLD_MATCH_2, MF_OLD_MATCH_3, MF_OLD_MATCH_4, MF_OLD_MATCH_5],
         cv=CV_MF_OLD, yt=YT_MF_OLD, tx=942, ty=391, ylx=646, leg=(1249, 375), cvx=1177),
]

xs = np.array([24 * m + h for m in range(len(MONTHS)) for h in HOURS])
centers = [24 * m + 12 for m in range(len(MONTHS))]
header_texts = []

for p in panels:
    for i, top in enumerate(p['rows']):
        ax = fig.add_axes([p['x0'] / W, 1 - (top + p['h']) / H,
                           (p['x1'] - p['x0']) / W, p['h'] / H])
        ax.set_facecolor('white')
        for k in range(1, len(MONTHS)):
            ax.axvline(24 * k, color='#a3a3a3', lw=1.0, zorder=1)
        ax.plot(xs, np.ravel(p['tests'][i]), color=BLUE, lw=1.1, zorder=3,
                solid_joinstyle='round')
        ax.plot(xs, np.ravel(p['matches'][i]), color=ORANGE, lw=1.1, zorder=4,
                solid_joinstyle='round')
        ax.set_xlim(0, 287)
        ax.set_yticks(p['yt'][i])
        ax.set_xticks(centers)
        ax.set_xticklabels(MONTHS if i == len(p['rows']) - 1 else [])
        ax.tick_params(axis='both', length=0, labelsize=6.5, labelcolor=TXT)
        ax.tick_params(axis='y', pad=5)
        ax.tick_params(axis='x', pad=5)
        for sp in ax.spines.values():
            sp.set_color('#cfcfcf')
            sp.set_linewidth(1.3)
        hr, mo, t24 = p['cv'][i]
        yc = top + p['h'] / 2 + 5.5
        fig.text(p['cvx'] / W, 1 - yc / H,
                 f"hourly: {hr:.1f}%\nmonthly: {mo:.1f}%\n12x24: {t24:.1f}%",
                 ha='left', va='center', fontsize=7, color=TXT, linespacing=1.08)
        if i == 0:
            t = fig.text(p['cvx'] / W, 1 - (top + 7.8) / H, 'CV-RMSE', ha='left', va='center',
                         fontsize=6.3, color='#333333', family=['DejaVu Sans'])
            header_texts.append((t, top + 12.3))
    # panel texts
    fig.text(p['tx'] / W, 1 - p['ty'] / H, p['title'], ha='center', va='center',
             fontsize=9.4, color=TXT)
    ymid = (p['rows'][0] + p['rows'][-1] + p['h']) / 2
    fig.text(p['ylx'] / W, 1 - ymid / H, 'Total Electricity (kWh/hr)', rotation=90,
             ha='center', va='center', fontsize=8.5, color=TXT)
    fig.text((p['x0'] + p['x1']) / 2 / W, 1 - (p['rows'][-1] + p['h'] + 24) / H, 'Month',
             ha='center', va='center', fontsize=7, color=TXT)
    handles = [Line2D([], [], color=BLUE, lw=1.1), Line2D([], [], color=ORANGE, lw=1.1)]
    leg = fig.legend(handles, SERIES_LABELS, loc='upper right',
                     bbox_to_anchor=(p['leg'][0] / W, 1 - p['leg'][1] / H),
                     fontsize=6.5, frameon=True, fancybox=True, framealpha=1,
                     edgecolor='#cccccc', borderpad=0.45, labelspacing=0.35,
                     handlelength=2.0, handletextpad=0.8, borderaxespad=0)
    for txt in leg.get_texts():
        txt.set_color(TXT)

# underline the CV-RMSE headers
fig.canvas.draw()
renderer = fig.canvas.get_renderer()
for t, yline in header_texts:
    bb = t.get_window_extent(renderer)
    fig.add_artist(Line2D([bb.x0 / W, bb.x1 / W], [1 - yline / H, 1 - yline / H],
                          transform=fig.transFigure, color='#333333', lw=0.7))

fig.savefig('out.png', dpi=100, facecolor='white')
